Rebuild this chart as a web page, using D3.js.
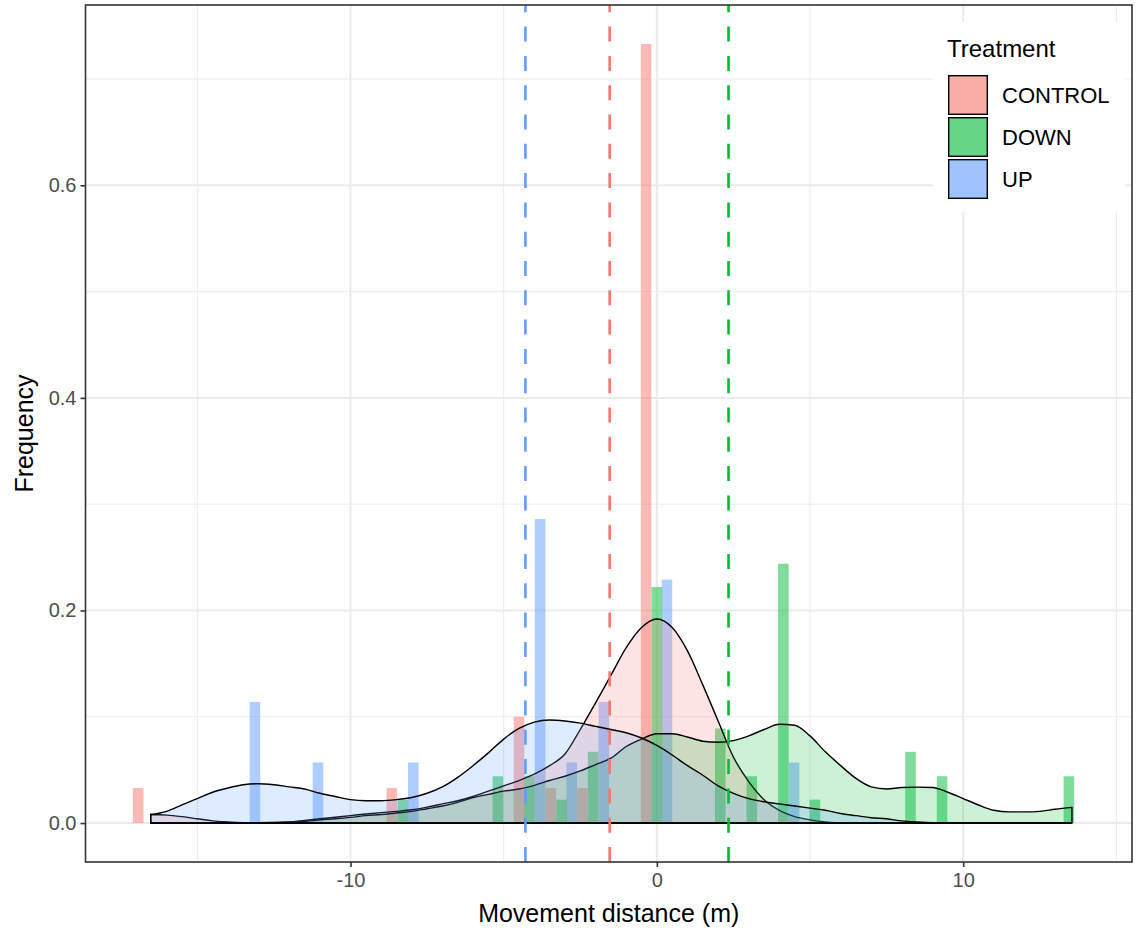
<!DOCTYPE html>
<html>
<head>
<meta charset="utf-8">
<script src="https://cdn.jsdelivr.net/npm/d3@7"></script>
<style>
  body { margin: 0; background: #fff; }
</style>
</head>
<body>
<div class="treatmentGraph"></div>
<script>
// groups and colours (ggplot default hue palette)
const groups = ['CONTROL', 'DOWN', 'UP'];
const groupColors = ['#F8766D', '#00BA38', '#619CFF'];

// histogram bars: bin centre (m) and frequency, per group
const controlBinX = [-16.93, -8.65, -4.50, -3.46, -2.43, -0.35];
const controlFreq = [0.033, 0.033, 0.100, 0.033, 0.033, 0.733];

const downBinX = [-8.29, -5.19, -4.16, -3.11, -2.08, 0.00, 2.07, 3.10, 4.13, 5.16, 8.28, 9.31, 13.45];
const downFreq = [0.022, 0.044, 0.044, 0.022, 0.067, 0.222, 0.089, 0.044, 0.244, 0.022, 0.067, 0.044, 0.044];

const upBinX = [-13.12, -11.06, -7.95, -3.81, -2.78, -1.73, 0.33, 4.48];
const upFreq = [0.114, 0.057, 0.057, 0.286, 0.057, 0.114, 0.229, 0.057];

const binWidth = 0.345;

// density curves: x (m), density
const controlDensX = [-16.52, -16, -15.5, -15, -14.5, -14, -13.5, -13, -12.5, -12, -11.5, -11, -10.5, -10, -9.5, -9, -8.5, -8, -7.5, -7, -6.5, -6, -5.5, -5, -4.5, -4, -3.5, -3, -2.5, -2, -1.5, -1, -0.5, 0, 0.5, 1, 1.5, 2, 2.5, 3, 3.5, 4, 4.5, 5, 5.5, 6, 13.55];
const controlDensY = [0.008, 0.0075, 0.006, 0.004, 0.002, 0.001, 0.0003, 0, 0, 0.001, 0.0025, 0.004, 0.0055, 0.007, 0.0085, 0.0098, 0.011, 0.0125, 0.015, 0.018, 0.021, 0.025, 0.030, 0.035, 0.040, 0.046, 0.054, 0.065, 0.088, 0.113, 0.139, 0.165, 0.184, 0.192, 0.184, 0.162, 0.130, 0.096, 0.062, 0.039, 0.022, 0.012, 0.006, 0.003, 0.001, 0, 0];

const downDensX = [-16.52, -14, -13, -12, -11.5, -11, -10.5, -10, -9.5, -9, -8.5, -8, -7.5, -7, -6.5, -6, -5.5, -5, -4.5, -4, -3.5, -3, -2.5, -2, -1.5, -1, -0.5, 0, 0.5, 1, 1.5, 2, 2.5, 3, 3.5, 4, 4.5, 5, 5.5, 6, 6.5, 7, 7.5, 8, 8.5, 9, 9.5, 10, 10.5, 11, 11.5, 12, 12.5, 13, 13.55];
const downDensY = [0, 0, 0.0003, 0.001, 0.0015, 0.003, 0.004, 0.0053, 0.007, 0.008, 0.0095, 0.011, 0.0135, 0.016, 0.0195, 0.024, 0.027, 0.030, 0.032, 0.0355, 0.040, 0.044, 0.049, 0.055, 0.061, 0.072, 0.079, 0.084, 0.084, 0.081, 0.077, 0.076, 0.0775, 0.082, 0.088, 0.093, 0.092, 0.082, 0.067, 0.054, 0.042, 0.034, 0.032, 0.0335, 0.0338, 0.0335, 0.029, 0.023, 0.017, 0.012, 0.0105, 0.0105, 0.011, 0.013, 0.0147];

const upDensX = [-16.52, -16, -15.5, -15, -14.5, -14, -13.5, -13, -12.5, -12, -11.5, -11, -10.5, -10, -9.5, -9, -8.5, -8, -7.5, -7, -6.5, -6, -5.5, -5, -4.5, -4, -3.5, -3, -2.5, -2, -1.5, -1, -0.5, 0, 0.5, 1, 1.5, 2, 2.5, 3, 3.5, 4, 4.5, 5, 5.5, 6, 6.5, 7, 7.5, 8, 8.5, 9.5, 13.55];
const upDensY = [0.008, 0.011, 0.017, 0.023, 0.029, 0.033, 0.036, 0.037, 0.036, 0.034, 0.032, 0.028, 0.025, 0.022, 0.021, 0.021, 0.022, 0.024, 0.028, 0.034, 0.043, 0.054, 0.066, 0.079, 0.089, 0.095, 0.097, 0.096, 0.094, 0.091, 0.088, 0.085, 0.080, 0.073, 0.064, 0.054, 0.045, 0.035, 0.028, 0.023, 0.020, 0.018, 0.016, 0.014, 0.012, 0.009, 0.007, 0.005, 0.004, 0.002, 0.001, 0, 0];

// group means (dashed lines)
const groupMeans = [-1.54, 2.34, -4.29];

// axis ticks
const xTicks = [-10, 0, 10];
const xMinorTicks = [-15, -5, 5, 15];
const yTicks = [0, 0.2, 0.4, 0.6];
const yMinorTicks = [0.1, 0.3, 0.5, 0.7];

function treatmentGraph() {
    const width = 1136;
    const height = 932;
    const panel = { left: 85.5, right: 1132, top: 5, bottom: 862 };

    const bars = [
        { group: 0, x: controlBinX, y: controlFreq },
        { group: 1, x: downBinX, y: downFreq },
        { group: 2, x: upBinX, y: upFreq }
    ];
    const densities = [
        { group: 0, x: controlDensX, y: controlDensY },
        { group: 1, x: downDensX, y: downDensY },
        { group: 2, x: upDensX, y: upDensY }
    ];

    const svg = d3.select('.treatmentGraph')
        .append('svg')
        .attr('width', width)
        .attr('height', height)
        .attr('style', 'font-family: "Liberation Sans", Arial, sans-serif; background: #fff');

    // scales (ggplot adds 5% each side)
    const scaleX = d3.scaleLinear()
        .domain([-18.65, 15.51])
        .range([panel.left, panel.right]);

    const scaleY = d3.scaleLinear()
        .domain([-0.03665, 0.76965])
        .range([panel.bottom, panel.top]);

    // grid
    const grid = svg.append('g');
    grid.selectAll('.minorX').data(xMinorTicks).join('line')
        .attr('x1', d => scaleX(d)).attr('x2', d => scaleX(d))
        .attr('y1', panel.top).attr('y2', panel.bottom)
        .attr('stroke', '#EBEBEB').attr('stroke-width', 1);
    grid.selectAll('.minorY').data(yMinorTicks).join('line')
        .attr('x1', panel.left).attr('x2', panel.right)
        .attr('y1', d => scaleY(d)).attr('y2', d => scaleY(d))
        .attr('stroke', '#EBEBEB').attr('stroke-width', 1);
    grid.selectAll('.majorX').data(xTicks).join('line')
        .attr('x1', d => scaleX(d)).attr('x2', d => scaleX(d))
        .attr('y1', panel.top).attr('y2', panel.bottom)
        .attr('stroke', '#EBEBEB').attr('stroke-width', 2);
    grid.selectAll('.majorY').data(yTicks).join('line')
        .attr('x1', panel.left).attr('x2', panel.right)
        .attr('y1', d => scaleY(d)).attr('y2', d => scaleY(d))
        .attr('stroke', '#EBEBEB').attr('stroke-width', 2);

    // histogram bars
    bars.forEach(b => {
        const rows = b.x.map((x, i) => ({ x: x, y: b.y[i] }));
        svg.append('g')
            .selectAll('rect')
            .data(rows)
            .join('rect')
            .attr('x', d => scaleX(d.x - binWidth / 2))
            .attr('width', scaleX(binWidth) - scaleX(0))
            .attr('y', d => scaleY(d.y))
            .attr('height', d => scaleY(0) - scaleY(d.y))
            .attr('fill', groupColors[b.group])
            .attr('fill-opacity', 0.5);
    });

    // density areas
    const area = d3.area()
        .x(d => scaleX(d[0]))
        .y0(scaleY(0))
        .y1(d => scaleY(d[1]))
        .curve(d3.curveMonotoneX);

    densities.forEach(dd => {
        const pts = dd.x.map((x, i) => [x, dd.y[i]]);
        svg.append('path')
            .datum(pts)
            .attr('d', area)
            .attr('fill', groupColors[dd.group])
            .attr('fill-opacity', 0.2)
            .attr('stroke', '#000')
            .attr('stroke-width', 1.4);
    });

    // mean lines
    svg.append('g')
        .selectAll('line')
        .data(groupMeans)
        .join('line')
        .attr('x1', d => scaleX(d)).attr('x2', d => scaleX(d))
        .attr('y1', panel.bottom).attr('y2', panel.top)
        .attr('stroke', (d, i) => groupColors[i])
        .attr('stroke-width', 2.6)
        .attr('stroke-dasharray', '15 14.3');

    // panel border
    svg.append('rect')
        .attr('x', panel.left).attr('y', panel.top)
        .attr('width', panel.right - panel.left)
        .attr('height', panel.bottom - panel.top)
        .attr('fill', 'none')
        .attr('stroke', '#333333')
        .attr('stroke-width', 1.6);

    // axes
    const axisY = svg.append('g')
        .attr('transform', `translate(${panel.left}, 0)`)
        .call(d3.axisLeft(scaleY).tickValues(yTicks).tickFormat(d3.format('.1f')).tickSize(5).tickPadding(4));

    const axisX = svg.append('g')
        .attr('transform', `translate(0, ${panel.bottom})`)
        .call(d3.axisBottom(scaleX).tickValues(xTicks).tickFormat(d => String(d)).tickSize(5).tickPadding(6));

    [axisY, axisX].forEach(ax => {
        ax.select('.domain').remove();
        ax.selectAll('line').attr('stroke', '#333333').attr('stroke-width', 1.6);
        ax.selectAll('text')
            .attr('fill', '#4D4D4D')
            .style('font-size', '20px')
            .style('font-family', '"Liberation Sans", Arial, sans-serif');
    });

    // axis titles
    svg.append('text')
        .attr('x', (panel.left + panel.right) / 2)
        .attr('y', 922)
        .attr('text-anchor', 'middle')
        .style('font-size', '25px')
        .text('Movement distance (m)');

    svg.append('text')
        .attr('transform', `translate(33, ${(panel.top + panel.bottom) / 2}) rotate(-90)`)
        .attr('text-anchor', 'middle')
        .style('font-size', '25px')
        .text('Frequency');

    // legend
    const legend = svg.append('g');
    legend.append('rect')
        .attr('x', 933).attr('y', 22)
        .attr('width', 192).attr('height', 190)
        .attr('fill', '#fff');
    legend.append('text')
        .attr('x', 947).attr('y', 57)
        .style('font-size', '24px')
        .text('Treatment');

    const keys = legend.selectAll('g.key')
        .data(groups)
        .join('g')
        .attr('class', 'key')
        .attr('transform', (d, i) => `translate(948, ${75 + i * 42})`);
    keys.append('rect')
        .attr('width', 40).attr('height', 40)
        .attr('fill', (d, i) => groupColors[i])
        .attr('fill-opacity', 0.5);
    keys.append('rect')
        .attr('x', 0.7).attr('y', 0.7)
        .attr('width', 38.6).attr('height', 38.6)
        .attr('fill', (d, i) => groupColors[i])
        .attr('fill-opacity', 0.2)
        .attr('stroke', '#000')
        .attr('stroke-width', 1.4);
    keys.append('text')
        .attr('x', 54).attr('y', 20)
        .attr('dy', '0.36em')
        .style('font-size', '22px')
        .text(d => d);
}

treatmentGraph();
</script>
</body>
</html>
